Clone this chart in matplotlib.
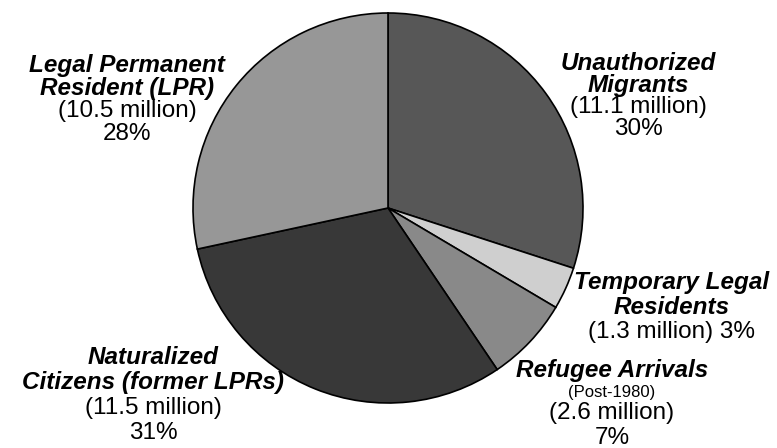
import matplotlib
matplotlib.use('Agg')
import matplotlib.pyplot as plt

# Immigrant population by legal status (millions)
groups = ['Unauthorized Migrants', 'Temporary Legal Residents', 'Refugee Arrivals',
          'Naturalized Citizens', 'Legal Permanent Resident']
millions = [11.1, 1.3, 2.6, 11.5, 10.5]
percents = ['30%', '3%', '7%', '31%', '28%']
colors = ['#575757', '#cfcfcf', '#898989', '#383838', '#979797']

plt.rcParams['font.family'] = ['Liberation Sans', 'DejaVu Sans']

fig = plt.figure(figsize=(7.77, 4.48), dpi=100)
ax = fig.add_axes([0, 0, 1, 1])
ax.pie(millions, colors=colors, startangle=90, counterclock=False,
       center=(388, 240), radius=195,
       wedgeprops=dict(edgecolor='black', linewidth=1.2))
ax.set_xlim(0, 777)
ax.set_ylim(0, 448)
ax.set_aspect('equal')
ax.axis('off')

BOLD = dict(fontsize=17.5, fontweight='bold', fontstyle='italic')
REG = dict(fontsize=17.5)
SMALL = dict(fontsize=12)

def label(x, y_top, lines, step=23):
    y = 448 - y_top
    for text, style in lines:
        ax.text(x, y, text, ha='center', va='center', **style)
        y -= step

label(127, 65, [('Legal Permanent', BOLD), ('Resident (LPR)', BOLD),
                (f'({millions[4]} million)', REG), (percents[4], REG)])
label(638, 63, [('Unauthorized', BOLD), ('Migrants', BOLD),
                (f'({millions[0]} million)', REG), (percents[0], REG)], step=22)
label(672, 282, [('Temporary Legal', BOLD), ('Residents', BOLD),
                 (f'({millions[1]} million) {percents[1]}', REG)], step=25)
label(153, 358, [('Naturalized', BOLD), ('Citizens (former LPRs)', BOLD),
                 (f'({millions[3]} million)', REG), (percents[3], REG)], step=25)

ax.text(612, 448 - 370, 'Refugee Arrivals', ha='center', va='center', **BOLD)
ax.text(612, 448 - 392, '(Post-1980)', ha='center', va='center', **SMALL)
ax.text(612, 448 - 413, f'({millions[2]} million)', ha='center', va='center', **REG)
ax.text(612, 448 - 438, percents[2], ha='center', va='center', **REG)

fig.savefig('out.png', dpi=100)
